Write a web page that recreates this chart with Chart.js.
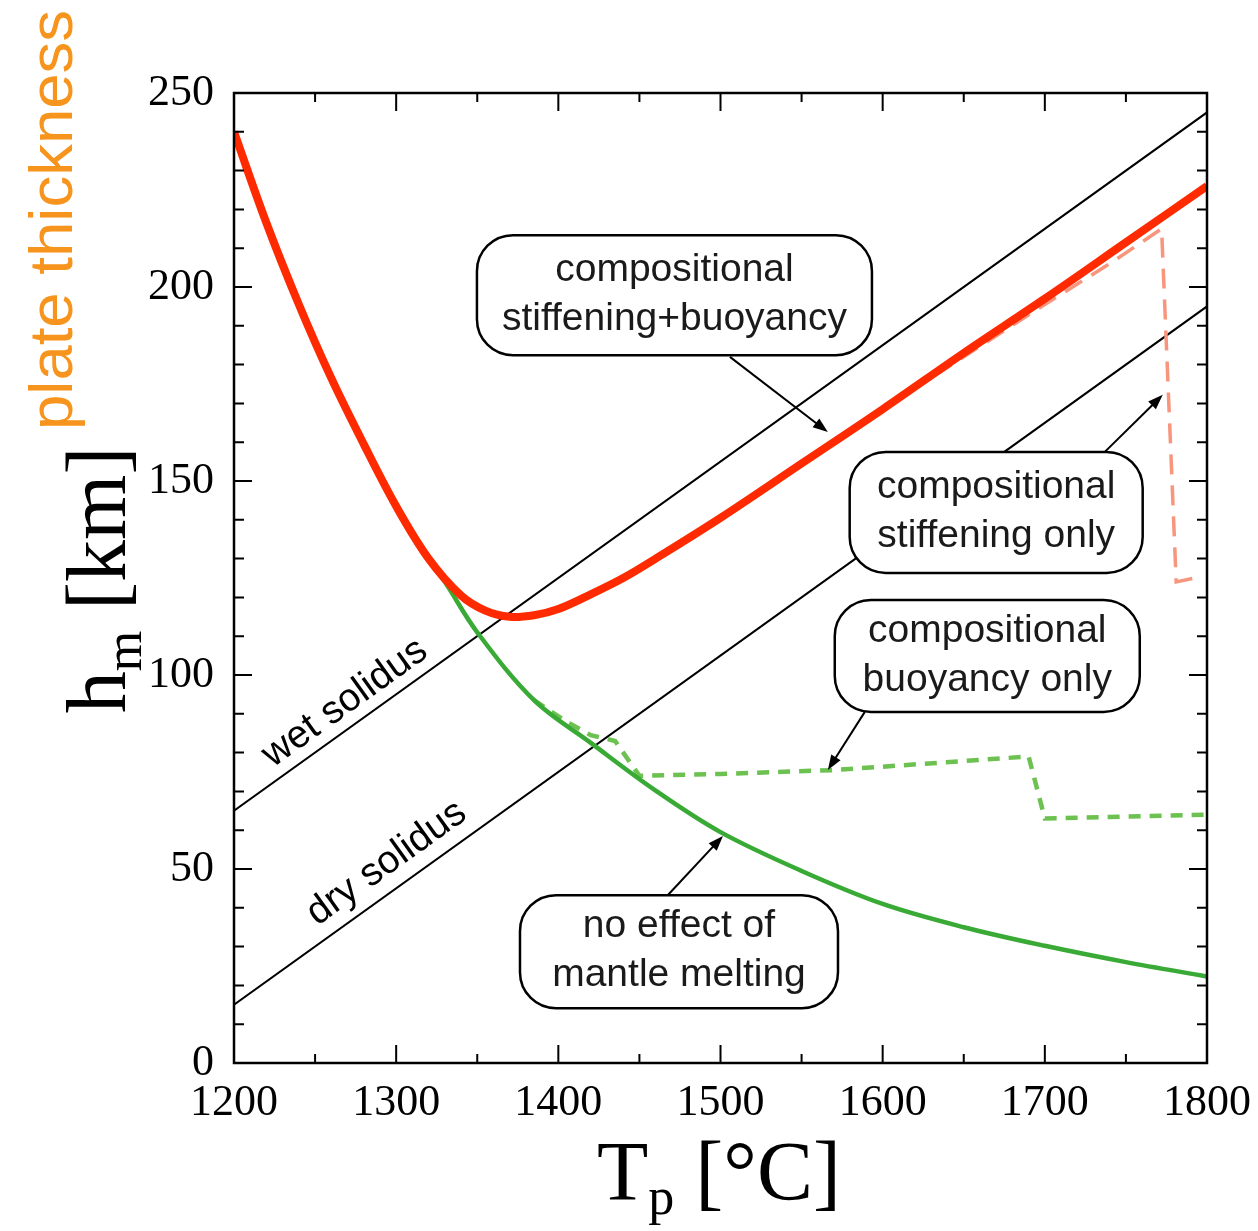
<!DOCTYPE html>
<html>
<head>
<meta charset="utf-8">
<script src="https://cdn.jsdelivr.net/npm/chart.js@4.4.0/dist/chart.umd.min.js"></script>
<style>
  html, body { margin: 0; padding: 0; background: #fff; }
  #wrap { width: 1258px; height: 1231px; }
</style>
</head>
<body>
<div id="wrap"><canvas id="chart" width="1258" height="1231"></canvas></div>
<script>
// mantle potential temperature [°C] and plate thickness [km]
const xTickValues = [1200, 1300, 1400, 1500, 1600, 1700, 1800];
const yTickValues = [0, 50, 100, 150, 200, 250];

// compositional stiffening + buoyancy (thick red)
const redT = [1200, 1220, 1240, 1260, 1280, 1300, 1320, 1340, 1355, 1370, 1385, 1400, 1420, 1440, 1460, 1500, 1550, 1600, 1650, 1700, 1750, 1800];
const redH = [240, 216.5, 195.5, 176.5, 159.5, 143.5, 130, 120.5, 116.6, 115, 115.4, 117, 120.8, 125, 130, 140.5, 154.5, 168.5, 183, 197, 211.5, 226];

// compositional stiffening only (salmon dashed)
const redDashT = [1600, 1650, 1700, 1740, 1772, 1781, 1795];
const redDashH = [168.5, 182, 195.5, 206, 215, 124, 125.2];

// no effect of mantle melting (green)
const greenT = [1200, 1220, 1240, 1260, 1280, 1300, 1320, 1330, 1350, 1385, 1420, 1460, 1500, 1550, 1600, 1650, 1700, 1750, 1800];
const greenH = [240, 216.5, 195.5, 176.5, 159.5, 143.5, 130, 124, 111, 93.5, 82.5, 70.2, 59.5, 49.5, 41, 35, 30.2, 26, 22.3];

// compositional buoyancy only (light green dashed)
const greenDashT = [1385, 1405, 1420, 1435, 1450, 1500, 1570, 1690, 1700, 1800];
const greenDashH = [93.5, 88, 84.5, 83, 74, 74.5, 75.5, 79, 63, 64];

// solidus lines
const wetT = [1200, 1800];
const wetH = [65, 245];
const dryT = [1200, 1800];
const dryH = [15, 195];

const pts = (xs, ys) => xs.map((v, i) => ({ x: v, y: ys[i] }));

// label boxes: anchor in data units, arrow from -> to in data units
const boxes = [
  { lines: ["compositional", "stiffening+buoyancy"], cx: 1471.6, cy: 197.9, w: 395, h: 120, from: [1505.8, 182], to: [1566.2, 162.6] },
  { lines: ["compositional", "stiffening only"], cx: 1670, cy: 141.9, w: 293, h: 121, from: [1737, 157.5], to: [1772.7, 172.2] },
  { lines: ["compositional", "buoyancy only"], cx: 1664.5, cy: 104.9, w: 305, h: 112, from: [1589, 90.5], to: [1566.2, 75.5] },
  { lines: ["no effect of", "mantle melting"], cx: 1474.4, cy: 28.7, w: 318, h: 113, from: [1467.6, 43.3], to: [1501.5, 58.5] },
];

const SANS = '"Liberation Sans", Arial, Helvetica, sans-serif';
const SERIF = '"Liberation Serif", "Times New Roman", serif';

function roundBox(ctx, x, y, w, h, r) {
  ctx.beginPath();
  ctx.moveTo(x + r, y);
  ctx.lineTo(x + w - r, y);
  ctx.arcTo(x + w, y, x + w, y + r, r);
  ctx.lineTo(x + w, y + h - r);
  ctx.arcTo(x + w, y + h, x + w - r, y + h, r);
  ctx.lineTo(x + r, y + h);
  ctx.arcTo(x, y + h, x, y + h - r, r);
  ctx.lineTo(x, y + r);
  ctx.arcTo(x, y, x + r, y, r);
  ctx.closePath();
}

function arrow(ctx, x1, y1, x2, y2) {
  const ang = Math.atan2(y2 - y1, x2 - x1);
  ctx.beginPath();
  ctx.moveTo(x1, y1);
  ctx.lineTo(x2 - 8 * Math.cos(ang), y2 - 8 * Math.sin(ang));
  ctx.stroke();
  ctx.beginPath();
  ctx.moveTo(x2, y2);
  ctx.lineTo(x2 - 15 * Math.cos(ang) + 5.5 * Math.sin(ang), y2 - 15 * Math.sin(ang) - 5.5 * Math.cos(ang));
  ctx.lineTo(x2 - 15 * Math.cos(ang) - 5.5 * Math.sin(ang), y2 - 15 * Math.sin(ang) + 5.5 * Math.cos(ang));
  ctx.closePath();
  ctx.fill();
}

const overlay = {
  id: "overlay",
  beforeDraw(chart) {
    const ctx = chart.ctx;
    ctx.save();
    ctx.fillStyle = "#fff";
    ctx.fillRect(0, 0, chart.width, chart.height);
    ctx.restore();
  },
  afterDatasetsDraw(chart) {
    const { ctx, chartArea: a } = chart;
    const x = chart.scales.x, y = chart.scales.y;
    ctx.save();

    // frame
    ctx.strokeStyle = "#000";
    ctx.lineWidth = 2.5;
    ctx.strokeRect(a.left, a.top, a.right - a.left, a.bottom - a.top);

    // inward ticks on all four sides
    ctx.lineWidth = 2;
    ctx.beginPath();
    for (let t = xTickValues[0]; t <= xTickValues[xTickValues.length - 1]; t += 50) {
      const px = x.getPixelForValue(t);
      const len = t % 100 === 0 ? 18 : 9;
      ctx.moveTo(px, a.bottom); ctx.lineTo(px, a.bottom - len);
      ctx.moveTo(px, a.top); ctx.lineTo(px, a.top + len);
    }
    for (let v = yTickValues[0]; v <= yTickValues[yTickValues.length - 1]; v += 10) {
      const py = y.getPixelForValue(v);
      const len = v % 50 === 0 ? 18 : 10;
      ctx.moveTo(a.left, py); ctx.lineTo(a.left + len, py);
      ctx.moveTo(a.right, py); ctx.lineTo(a.right - len, py);
    }
    ctx.stroke();

    // solidus labels, rotated along the lines
    const slope = Math.atan2(y.getPixelForValue(wetH[1]) - y.getPixelForValue(wetH[0]),
                             x.getPixelForValue(wetT[1]) - x.getPixelForValue(wetT[0]));
    ctx.fillStyle = "#000";
    ctx.font = "39px " + SANS;
    ctx.textAlign = "center";
    ctx.textBaseline = "middle";
    [["wet solidus", 1268.4, 92.8], ["dry solidus", 1294.1, 51.5]].forEach(([txt, t, v]) => {
      ctx.save();
      ctx.translate(x.getPixelForValue(t), y.getPixelForValue(v));
      ctx.rotate(slope);
      ctx.fillText(txt, 0, 0);
      ctx.restore();
    });

    // boxes with arrows
    boxes.forEach(b => {
      ctx.lineWidth = 2;
      ctx.strokeStyle = "#000";
      ctx.fillStyle = "#000";
      arrow(ctx, x.getPixelForValue(b.from[0]), y.getPixelForValue(b.from[1]),
                 x.getPixelForValue(b.to[0]), y.getPixelForValue(b.to[1]));
      const cx = x.getPixelForValue(b.cx), cy = y.getPixelForValue(b.cy);
      roundBox(ctx, cx - b.w / 2, cy - b.h / 2, b.w, b.h, 36);
      ctx.fillStyle = "#fff";
      ctx.fill();
      ctx.lineWidth = 2.5;
      ctx.stroke();
      ctx.fillStyle = "#1a1a1a";
      ctx.font = "39px " + SANS;
      ctx.fillText(b.lines[0], cx, cy - 25);
      ctx.fillText(b.lines[1], cx, cy + 24);
    });
    ctx.restore();
  },
  afterDraw(chart) {
    const ctx = chart.ctx;
    ctx.save();
    ctx.fillStyle = "#000";
    ctx.textBaseline = "alphabetic";

    // x title: T_p [°C]
    const big = "84px " + SERIF, sub = "52px " + SERIF;
    ctx.font = big; const wT = ctx.measureText("T").width, wR = ctx.measureText(" [°C]").width;
    ctx.font = sub; const wP = ctx.measureText("p").width;
    let sx = 719 - (wT + wP + wR) / 2;
    ctx.textAlign = "left";
    ctx.font = big; ctx.fillText("T", sx, 1200);
    ctx.font = sub; ctx.fillText("p", sx + wT, 1214);
    ctx.font = big; ctx.fillText(" [°C]", sx + wT + wP, 1200);

    // y title: h_m [km]
    ctx.save();
    ctx.translate(125, 580);
    ctx.rotate(-Math.PI / 2);
    ctx.font = big; const wh = ctx.measureText("h").width, wk = ctx.measureText(" [km]").width;
    ctx.font = sub; const wm = ctx.measureText("m").width;
    sx = -(wh + wm + wk) / 2;
    ctx.font = big; ctx.fillText("h", sx, 0);
    ctx.font = sub; ctx.fillText("m", sx + wh, 16);
    ctx.font = big; ctx.fillText(" [km]", sx + wh + wm, 0);
    ctx.restore();

    // orange side label
    ctx.save();
    ctx.translate(72, 430);
    ctx.rotate(-Math.PI / 2);
    ctx.fillStyle = "#f7941d";
    ctx.font = "62px " + SANS;
    const wPlate = ctx.measureText("plate thickness").width;
    ctx.scale(420 / wPlate, 1);
    ctx.fillText("plate thickness", 0, 0);
    ctx.restore();

    ctx.restore();
  }
};

const tickFont = { family: SERIF, size: 44 };

new Chart(document.getElementById("chart").getContext("2d"), {
  type: "line",
  data: {
    datasets: [
      { label: "stiffening+buoyancy", data: pts(redT, redH), borderColor: "#ff2a00", borderWidth: 8, tension: 0.35 },
      { label: "no effect", data: pts(greenT, greenH), borderColor: "#39aa35", borderWidth: 4.5, tension: 0.35 },
      { label: "buoyancy only", data: pts(greenDashT, greenDashH), borderColor: "#6cc150", borderWidth: 4.5, borderDash: [12, 9], tension: 0 },
      { label: "stiffening only", data: pts(redDashT, redDashH), borderColor: "#f8957d", borderWidth: 3.5, borderDash: [20, 11], tension: 0 },
      { label: "wet solidus", data: pts(wetT, wetH), borderColor: "#000", borderWidth: 2, tension: 0 },
      { label: "dry solidus", data: pts(dryT, dryH), borderColor: "#000", borderWidth: 2, tension: 0 },
    ],
  },
  options: {
    responsive: false,
    animation: false,
    events: [],
    parsing: false,
    elements: { point: { radius: 0 }, line: { borderCapStyle: "butt", fill: false } },
    layout: { padding: { left: 0, right: 51, top: 93, bottom: 0 } },
    plugins: { legend: { display: false }, tooltip: { enabled: false } },
    scales: {
      x: {
        type: "linear",
        min: 1200,
        max: 1800,
        afterFit: (s) => { s.height = 168; s.paddingLeft = 0; s.paddingRight = 0; },
        afterBuildTicks: (s) => { s.ticks = xTickValues.map(v => ({ value: v })); },
        grid: { display: false, drawTicks: false },
        border: { display: false },
        ticks: { autoSkip: false, maxRotation: 0, padding: 14, color: "#000", font: tickFont, callback: (v) => String(v) },
      },
      y: {
        type: "linear",
        min: 0,
        max: 250,
        afterFit: (s) => { s.width = 234; s.paddingTop = 0; s.paddingBottom = 0; },
        afterBuildTicks: (s) => { s.ticks = yTickValues.map(v => ({ value: v })); },
        grid: { display: false, drawTicks: false },
        border: { display: false },
        ticks: { padding: 20, color: "#000", font: tickFont, callback: (v) => String(v) },
      },
    },
  },
  plugins: [overlay],
});
</script>
</body>
</html>
